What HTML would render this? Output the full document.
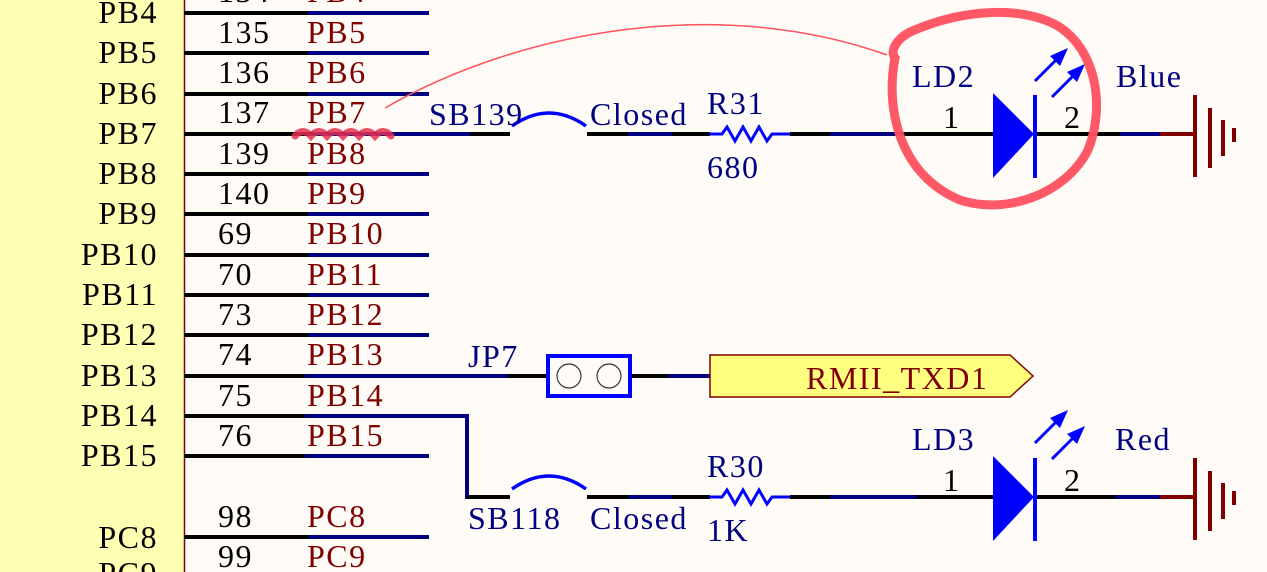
<!DOCTYPE html>
<html><head><meta charset="utf-8"><style>
html,body{margin:0;padding:0;background:#fffcf7;}
svg{display:block;}
text{font-family:"Liberation Serif",serif;}
</style></head><body>
<svg width="1267" height="572" viewBox="0 0 1267 572" xmlns="http://www.w3.org/2000/svg">
<rect x="0" y="0" width="1267" height="572" fill="#fffcf7"/>
<rect x="0" y="0" width="184" height="572" fill="#ffffb4"/>
<line x1="184.5" y1="0" x2="184.5" y2="572" stroke="#800000" stroke-width="1.5"/>
<g stroke-width="4">
<g stroke="#000">
<line x1="184" y1="13" x2="308" y2="13"/><line x1="184" y1="53" x2="308" y2="53"/><line x1="184" y1="94" x2="308" y2="94"/>
<line x1="184" y1="134" x2="308" y2="134"/><line x1="184" y1="174" x2="308" y2="174"/><line x1="184" y1="214" x2="308" y2="214"/>
<line x1="184" y1="255" x2="308" y2="255"/><line x1="184" y1="295" x2="308" y2="295"/><line x1="184" y1="335" x2="308" y2="335"/>
<line x1="184" y1="376" x2="305" y2="376"/><line x1="184" y1="416" x2="305" y2="416"/><line x1="184" y1="456" x2="305" y2="456"/>
<line x1="184" y1="537" x2="308" y2="537"/>
</g>
<g stroke="#000080">
<line x1="308" y1="13" x2="429" y2="13"/><line x1="308" y1="53" x2="429" y2="53"/><line x1="308" y1="94" x2="429" y2="94"/>
<line x1="308" y1="134" x2="510" y2="134"/><line x1="308" y1="174" x2="429" y2="174"/><line x1="308" y1="214" x2="429" y2="214"/>
<line x1="308" y1="255" x2="429" y2="255"/><line x1="308" y1="295" x2="429" y2="295"/><line x1="308" y1="335" x2="429" y2="335"/>
<line x1="305" y1="376" x2="507" y2="376"/><polyline points="305,416 467,416 467,497 470,497" fill="none"/><line x1="305" y1="456" x2="429" y2="456"/>
<line x1="308" y1="537" x2="429" y2="537"/>
</g>
<line x1="470" y1="134" x2="510" y2="134" stroke="#000"/>
<line x1="587" y1="134" x2="628" y2="134" stroke="#000"/><line x1="628" y1="134" x2="672" y2="134" stroke="#000080"/><line x1="672" y1="134" x2="710" y2="134" stroke="#000"/>
<line x1="790" y1="134" x2="830" y2="134" stroke="#000"/><line x1="830" y1="134" x2="900" y2="134" stroke="#000080"/><line x1="900" y1="134" x2="995" y2="134" stroke="#000"/>
<line x1="1034" y1="134" x2="1120" y2="134" stroke="#000"/><line x1="1120" y1="134" x2="1160" y2="134" stroke="#000080"/><line x1="1160" y1="134" x2="1196" y2="134" stroke="#800000"/>
<line x1="467" y1="497" x2="510" y2="497" stroke="#000"/>
<line x1="587" y1="497" x2="628" y2="497" stroke="#000"/><line x1="628" y1="497" x2="672" y2="497" stroke="#000080"/><line x1="672" y1="497" x2="710" y2="497" stroke="#000"/>
<line x1="790" y1="497" x2="830" y2="497" stroke="#000"/><line x1="830" y1="497" x2="917" y2="497" stroke="#000080"/><line x1="917" y1="497" x2="995" y2="497" stroke="#000"/>
<line x1="1034" y1="497" x2="1115" y2="497" stroke="#000"/><line x1="1115" y1="497" x2="1160" y2="497" stroke="#000080"/><line x1="1160" y1="497" x2="1196" y2="497" stroke="#800000"/>
<line x1="507" y1="376" x2="548" y2="376" stroke="#000"/><line x1="631" y1="376" x2="668" y2="376" stroke="#000"/><line x1="668" y1="376" x2="711" y2="376" stroke="#000080"/>
</g>
<path d="M512,126 Q549,100 586,126" fill="none" stroke="#0000ff" stroke-width="3.5"/>
<path d="M512,489 Q549,463 586,489" fill="none" stroke="#0000ff" stroke-width="3.5"/>
<polyline points="709,134 722,134 727,127 735,141 743,127 751,141 759,127 767,141 772,134 790,134" fill="none" stroke="#0000ff" stroke-width="3"/>
<polyline points="709,497 722,497 727,490 735,504 743,490 751,504 759,490 767,504 772,497 790,497" fill="none" stroke="#0000ff" stroke-width="3"/>
<g fill="#0000ff" stroke="#0000ff">
<polygon points="993,93 993,178 1034,134" stroke="none"/>
<line x1="1035" y1="95" x2="1035" y2="178" stroke-width="4"/>
<line x1="1035" y1="81" x2="1060" y2="56" stroke-width="3"/><polygon points="1068,48 1050,56 1060,66" stroke="none"/>
<line x1="1052" y1="97" x2="1077" y2="72" stroke-width="3"/><polygon points="1085,64 1067,72 1077,82" stroke="none"/>
<polygon points="993,456 993,541 1034,497" stroke="none"/>
<line x1="1035" y1="458" x2="1035" y2="541" stroke-width="4"/>
<line x1="1035" y1="443" x2="1060" y2="418" stroke-width="3"/><polygon points="1068,410 1050,418 1060,428" stroke="none"/>
<line x1="1052" y1="459" x2="1077" y2="434" stroke-width="3"/><polygon points="1085,426 1067,434 1077,444" stroke="none"/>
</g>
<g stroke="#800000" stroke-width="4">
<line x1="1195" y1="95" x2="1195" y2="177"/><line x1="1210" y1="108" x2="1210" y2="168"/><line x1="1223" y1="120" x2="1223" y2="156"/><line x1="1234" y1="128" x2="1234" y2="142"/>
<line x1="1195" y1="458" x2="1195" y2="540"/><line x1="1210" y1="471" x2="1210" y2="531"/><line x1="1223" y1="483" x2="1223" y2="519"/><line x1="1234" y1="491" x2="1234" y2="505"/>
</g>
<rect x="548" y="356" width="82" height="40" fill="none" stroke="#0000ff" stroke-width="4"/>
<circle cx="569" cy="376" r="12" fill="#fffcf7" stroke="#333" stroke-width="1.2"/>
<circle cx="609" cy="376" r="12" fill="#fffcf7" stroke="#333" stroke-width="1.2"/>
<polygon points="710,355 1010,355 1033,376 1010,397 710,397" fill="#ffff80" stroke="#800000" stroke-width="1.5"/>
<path d="M385,108 C520,30 720,-5 887,55" fill="none" stroke="#ff5060" stroke-width="1.5"/>
<path d="M895,58 C885,110 900,175 960,200 C1005,215 1065,195 1088,150 C1108,100 1092,40 1050,22 C1010,5 955,12 910,32 C895,40 890,52 895,58 Z" fill="none" stroke="#ff5060" stroke-width="9" opacity="0.95"/>
<path d="M295,136 q8,-9 16,0 q8,-9 16,0 q8,-9 16,0 q8,-9 16,0 q8,-9 16,0 q8,-9 16,0" fill="none" stroke="#e83050" stroke-width="7" stroke-linecap="round" opacity="0.85"/>
<g font-size="32" letter-spacing="1.5" fill="#000" text-anchor="end">
<text x="158" y="23">PB4</text><text x="158" y="63">PB5</text><text x="158" y="104">PB6</text><text x="158" y="144">PB7</text>
<text x="158" y="184">PB8</text><text x="158" y="224">PB9</text><text x="158" y="265">PB10</text><text x="158" y="305">PB11</text>
<text x="158" y="345">PB12</text><text x="158" y="386">PB13</text><text x="158" y="426">PB14</text><text x="158" y="466">PB15</text>
<text x="158" y="548">PC8</text><text x="158" y="584">PC9</text>
</g>
<g font-size="32" letter-spacing="1.5" fill="#000">
<text x="218" y="2">134</text><text x="218" y="43">135</text><text x="218" y="83">136</text><text x="218" y="123">137</text>
<text x="218" y="164">139</text><text x="218" y="204">140</text><text x="218" y="244">69</text><text x="218" y="285">70</text>
<text x="218" y="325">73</text><text x="218" y="365">74</text><text x="218" y="406">75</text><text x="218" y="446">76</text>
<text x="218" y="527">98</text><text x="218" y="567">99</text>
</g>
<g font-size="32" letter-spacing="1.5" fill="#800000">
<text x="307" y="2">PB4</text><text x="307" y="43">PB5</text><text x="307" y="83">PB6</text><text x="307" y="123">PB7</text>
<text x="307" y="164">PB8</text><text x="307" y="204">PB9</text><text x="307" y="244">PB10</text><text x="307" y="285">PB11</text>
<text x="307" y="325">PB12</text><text x="307" y="365">PB13</text><text x="307" y="406">PB14</text><text x="307" y="446">PB15</text>
<text x="307" y="527">PC8</text><text x="307" y="567">PC9</text>
<text x="806" y="389">RMII_TXD1</text>
</g>
<g font-size="32" letter-spacing="1.5" fill="#000080">
<text x="429" y="125">SB139</text><text x="590" y="125">Closed</text>
<text x="707" y="114">R31</text><text x="707" y="178">680</text>
<text x="912" y="87">LD2</text><text x="1116" y="87">Blue</text>
<text x="468" y="367">JP7</text>
<text x="468" y="529">SB118</text><text x="590" y="529">Closed</text>
<text x="707" y="477">R30</text><text x="707" y="541">1K</text>
<text x="912" y="450">LD3</text><text x="1115" y="450">Red</text>
</g>
<g font-size="32" fill="#000">
<text x="943" y="128">1</text><text x="1064" y="128">2</text>
<text x="943" y="491">1</text><text x="1064" y="491">2</text>
</g>
</svg>
</body></html>
